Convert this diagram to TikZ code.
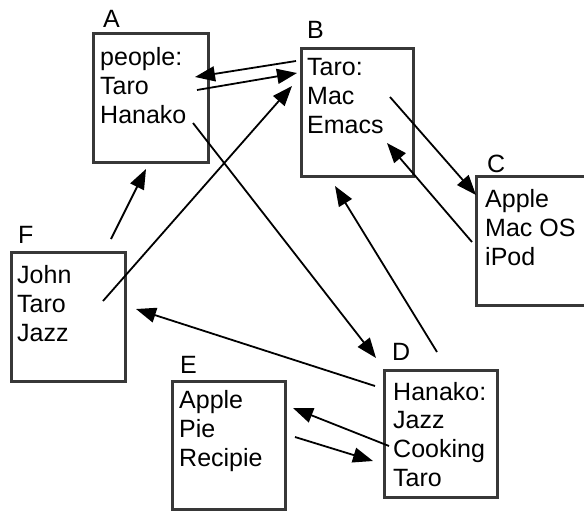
\documentclass[tikz,border=0pt]{standalone}
\usepackage{fontspec}
\setmainfont{Liberation Sans}
\usetikzlibrary{arrows.meta}
\begin{document}
\begin{tikzpicture}[x=1pt,y=-1pt,
  box/.style={draw=black!78,line width=3pt,minimum width=#1,inner sep=0pt},
  lbl/.style={anchor=base west,inner sep=0pt,font=\fontsize{25}{28.6}\selectfont},
  txt/.style={anchor=base west,inner sep=0pt,align=left,font=\fontsize{25}{28.6}\selectfont},
  conn/.style={line width=1.8pt,-{Triangle[length=20pt,width=15pt]}}]
\useasboundingbox (0,0) rectangle (584,512);
% boxes
\node[box=115pt,minimum height=129pt] (A) at (150.5,97.5) {};
\node[box=112pt,minimum height=128pt] (B) at (357,112) {};
\node[box=114pt,minimum height=129pt] (C) at (533,240.5) {};
\node[box=114pt,minimum height=129pt] (F) at (68,316.5) {};
\node[box=113pt,minimum height=128pt] (E) at (228.5,445) {};
\node[box=113pt,minimum height=127pt] (D) at (440.5,433.5) {};
% labels
\node[lbl] (Al) at (103,27) {A};
\node[lbl] (Bl) at (307,38) {B};
\node[lbl] (Cl) at (487,172) {C};
\node[lbl] (Fl) at (18,243) {F};
\node[lbl] (El) at (180,373) {E};
\node[lbl] (Dl) at (392,360) {D};
% texts (anchored at the baseline of their last line)
\node[txt] (At) at (100,123) {people:\\Taro\\Hanako};
\node[txt] (Bt) at (307,133) {Taro:\\Mac\\Emacs};
\node[txt] (Ct) at (485,265) {Apple\\Mac OS\\iPod};
\node[txt] (Ft) at (17,341) {John\\Taro\\Jazz};
\node[txt] (Et) at (179,466) {Apple\\Pie\\Recipie};
\node[txt] (Dt) at (393,486) {Hanako:\\Jazz\\Cooking\\Taro};
% connector end points
\coordinate (ba1) at (296,61);  \coordinate (ba2) at (195,77);
\coordinate (ab1) at (197,90);  \coordinate (ab2) at (297,73);
\coordinate (fb1) at (103,301); \coordinate (fb2) at (292,86);
\coordinate (ad1) at (193,123); \coordinate (ad2) at (376,358);
\coordinate (fa1) at (111,239); \coordinate (fa2) at (146,169);
\coordinate (bc1) at (390,97);  \coordinate (bc2) at (476,195);
\coordinate (cb1) at (472,242); \coordinate (cb2) at (387,143);
\coordinate (db1) at (437,352); \coordinate (db2) at (335,186);
\coordinate (df1) at (375,386); \coordinate (df2) at (136,309);
\coordinate (de1) at (389,446); \coordinate (de2) at (293,408);
\coordinate (ed1) at (295,437); \coordinate (ed2) at (373,461);
% connectors
\draw[conn] (ba1) -- (ba2);
\draw[conn] (ab1) -- (ab2);
\draw[conn] (fb1) -- (fb2);
\draw[conn] (ad1) -- (ad2);
\draw[conn] (fa1) -- (fa2);
\draw[conn] (bc1) -- (bc2);
\draw[conn] (cb1) -- (cb2);
\draw[conn] (db1) -- (db2);
\draw[conn] (df1) -- (df2);
\draw[conn] (de1) -- (de2);
\draw[conn] (ed1) -- (ed2);
\end{tikzpicture}
\end{document}
